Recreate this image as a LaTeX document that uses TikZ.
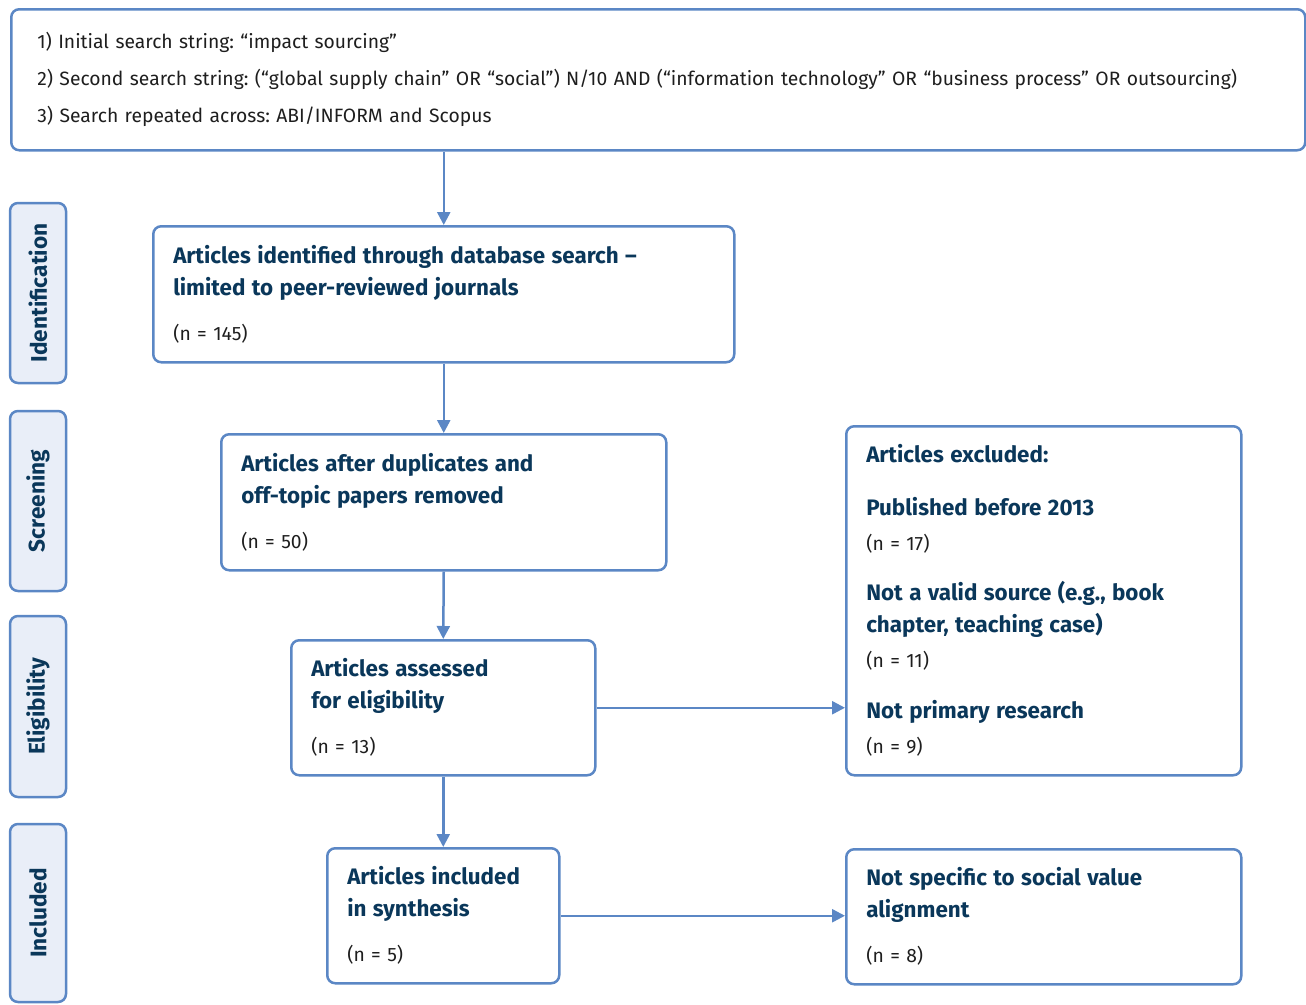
\documentclass[tikz,border=0pt]{standalone}
\usepackage{fontspec}
\setmainfont{Fira Sans}[BoldFont={Fira Sans Bold}]
\usetikzlibrary{arrows.meta}
\definecolor{boxblue}{RGB}{91,135,197}
\definecolor{tabfill}{RGB}{233,238,248}
\definecolor{navy}{RGB}{10,55,90}
\definecolor{txt}{RGB}{30,30,30}
\newcommand{\hd}[1]{{\fontsize{22.4}{32}\selectfont\bfseries\color{navy}#1}}
\frenchspacing
\begin{document}
\begin{tikzpicture}[
		x=1pt, y=-1pt,
		box/.style={draw=boxblue, line width=2.5pt, rounded corners=8pt, anchor=north west,
				align=left, inner xsep=20pt, inner ysep=0pt, text=txt,
				font=\fontsize{19.3}{32}\selectfont},
		phase/.style={draw=boxblue, fill=tabfill, line width=2.5pt, rounded corners=8pt,
				rotate=90, minimum height=56pt, inner sep=0pt, text=navy,
				font=\fontsize{22.6}{24}\selectfont\bfseries},
		arr/.style={-{Triangle[length=13pt,width=13pt]}, draw=boxblue, line width=2.5pt}
	]
	\useasboundingbox (0,0) rectangle (1306,1004);

	\node[box, text width=1242pt, minimum height=141pt, inner xsep=26pt] (search) at (10,8)
	{1) Initial search string: “impact sourcing”\\[5pt]
		2) Second search string: (“global supply chain” OR “social”) N/10 AND (“information technology” OR “business process” OR outsourcing)\\[5pt]
		3) Search repeated across: ABI/INFORM and Scopus};

	\node[box, text width=541pt, minimum height=136pt] (ident) at (152,225)
	{\hd{Articles identified through database search –}\\
		\hd{limited to peer-reviewed journals}\\[13pt]
		(n = 145)};
	\node[box, text width=405pt, minimum height=136pt] (screen) at (220,433)
	{\hd{Articles after duplicates and}\\
		\hd{off-topic papers removed}\\[13pt]
		(n = 50)};
	\node[box, text width=264pt, minimum height=135pt] (elig) at (290,639)
	{\hd{Articles assessed}\\
		\hd{for eligibility}\\[13pt]
		(n = 13)};
	\node[box, text width=192pt, minimum height=135pt] (incl) at (326,847)
	{\hd{Articles included}\\
		\hd{in synthesis}\\[13pt]
		(n = 5)};

	\node[box, text width=355pt, minimum height=349pt] (excl) at (845,425)
	{\hd{Articles excluded:}\\[21pt]
		\hd{Published before 2013}\\[3pt]
		(n = 17)\\[18pt]
		\hd{Not a valid source (e.g., book}\\
		\hd{chapter, teaching case)}\\[3pt]
		(n = 11)\\[19pt]
		\hd{Not primary research}\\[3pt]
		(n = 9)};
	\node[box, text width=355pt, minimum height=135pt] (notspec) at (845,848)
	{\hd{Not specific to social value}\\
		\hd{alignment}\\[13pt]
		(n = 8)};

	% phase tabs
	\node[phase, minimum width=180pt] (tident) at (38,293) {Identification};
	\node[phase, minimum width=180pt] (tscreen) at (38,501) {Screening};
	\node[phase, minimum width=181pt] (telig) at (38,706.5) {Eligibility};
	\node[phase, minimum width=178pt] (tincl) at (38,913) {Included};

	\draw[arr] (search.south -| ident.north) -- (ident.north);
	\draw[arr] (ident.south) -- (screen.north);
	\draw[arr] (screen.south) -- (elig.north);
	\draw[arr] (elig.south) -- (incl.north);
	\draw[arr] (elig.east) -- (elig.east -| excl.west);
	\draw[arr] (incl.east) -- (incl.east -| notspec.west);
\end{tikzpicture}
\end{document}
